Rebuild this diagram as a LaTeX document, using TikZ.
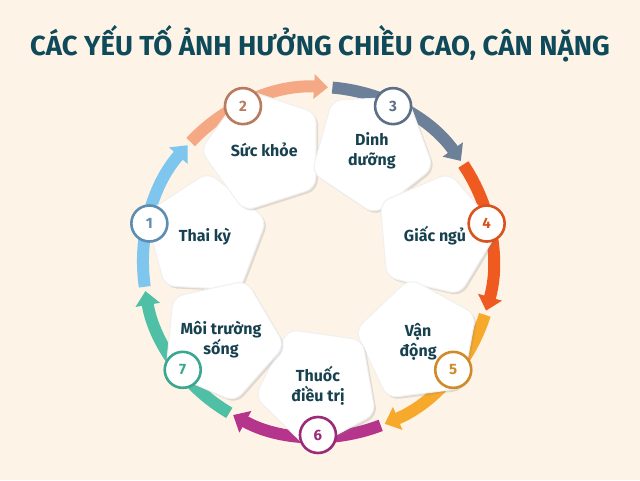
\documentclass[tikz,border=0pt]{standalone}
\usepackage{fontspec}
\setmainfont{Fira Sans}
\usetikzlibrary{shapes.geometric,arrows.meta,shadows,calc}
\definecolor{bg}{HTML}{FDF3E6}
\definecolor{title}{HTML}{0F4A5A}
\definecolor{txt}{HTML}{17414F}
\definecolor{cA}{HTML}{7FC6EE}\definecolor{bA}{HTML}{5E8DB2}
\definecolor{cB}{HTML}{F5A884}\definecolor{bB}{HTML}{B97A5E}
\definecolor{cC}{HTML}{6C8099}\definecolor{bC}{HTML}{5C6F87}
\definecolor{cD}{HTML}{EE5A1F}\definecolor{bD}{HTML}{D9531E}
\definecolor{cE}{HTML}{F6A92B}\definecolor{bE}{HTML}{D08A2A}
\definecolor{cF}{HTML}{B5348C}\definecolor{bF}{HTML}{9A2B78}
\definecolor{cG}{HTML}{4FBFA6}\definecolor{bG}{HTML}{3AA890}
\tikzset{
 seg/.style={line width=12pt,-{Triangle[width=24pt,length=14pt]}},
 penta/.style={regular polygon,regular polygon sides=5,minimum size=128pt,rounded corners=10pt,
   fill=white,draw=gray!12,line width=1pt,drop shadow={opacity=0.22,shadow xshift=2pt,shadow yshift=-2pt},
   inner sep=0pt},
 lbl/.style={font=\fontsize{16}{20}\selectfont\bfseries,text=txt,align=center},
 badge/.style={circle,minimum size=36pt,fill=white,draw=#1,line width=2.6pt,
   text=#1,font=\fontsize{15}{15}\selectfont\bfseries,
   drop shadow={opacity=0.25,shadow xshift=1pt,shadow yshift=-1pt}},
}
\begin{document}
\begin{tikzpicture}[x=1pt,y=1pt]
\fill[bg] (0,0) rectangle (640,480);
\useasboundingbox (0,0) rectangle (640,480);
\node (title) at (320,436) {\fontsize{27.5}{30}\selectfont\bfseries\color{title}CÁC YẾU TỐ ẢNH HƯỞNG CHIỀU CAO, CÂN NẶNG};
\coordinate (c) at (318,218);
% arcs
\foreach \k/\col in {7/cG,6/cF,5/cE,4/cD,3/cC,2/cB,1/cA}{
  \pgfmathsetmacro{\th}{167.14-(\k-1)*51.43}
  \draw[seg,\col] (c) ++({\th+21}:175) arc[start angle={\th+21},end angle={\th-29},radius=175];
}
% pentagons
\foreach \k/\r/\lab in {1/116/{Thai kỳ},2/124/{Sức khỏe},3/124/{Dinh\\dưỡng},4/120/{Giấc ngủ},5/128/{Vận\\động},6/124/{Thuốc\\điều trị},7/124/{Môi trường\\sống}}{
  \pgfmathsetmacro{\th}{167.14-(\k-1)*51.43}
  \node[penta,rotate=\th-26] (p\k) at ($(c)+(\th:\r)$) {};
  \node[lbl] (l\k) at (p\k) {\lab};
}
% badges
\foreach \k/\col in {1/bA,2/bB,3/bC,4/bD,5/bE,6/bF,7/bG}{
  \pgfmathsetmacro{\th}{167.14-(\k-1)*51.43}
  \node[badge=\col] (b\k) at ($(c)+(\th:173)$) {\k};
}
\end{tikzpicture}
\end{document}
